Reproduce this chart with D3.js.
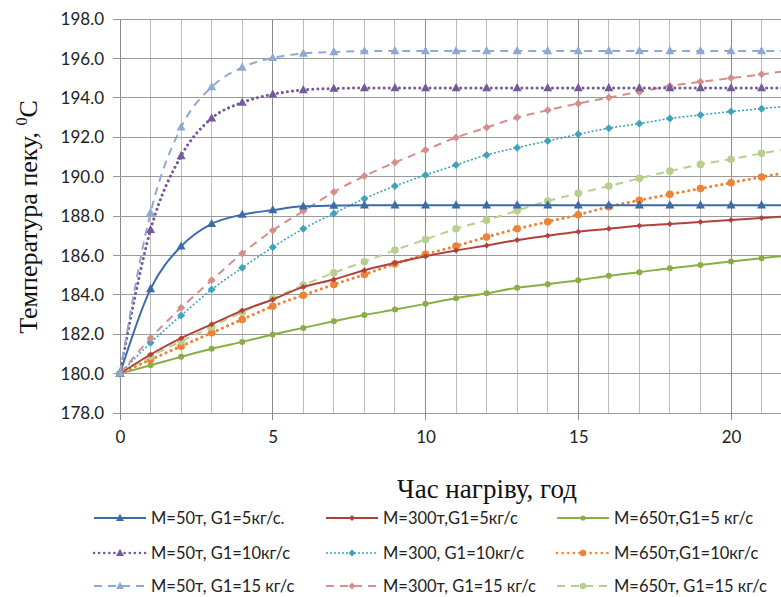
<!DOCTYPE html>
<html>
<head>
<meta charset="utf-8">
<script src="https://cdn.jsdelivr.net/npm/d3@7"></script>
<style>
  html, body { margin: 0; padding: 0; background: #fff; }
  svg { display: block; }
</style>
</head>
<body>
<svg id="chart" width="781" height="597"></svg>
<script>
// ---------- DATA ----------
const hours = [0,1,2,3,4,5,6,7,8,9,10,11,12,13,14,15,16,17,18,19,20,21,22];

const m50g5   = [180.0,184.3,186.46,187.6,188.07,188.3,188.49,188.53,188.55,188.55,188.55,188.55,188.55,188.55,188.55,188.55,188.55,188.55,188.55,188.55,188.55,188.55,188.55];
const m50g10  = [180.0,187.3,191.05,192.96,193.76,194.18,194.4,194.47,194.5,194.5,194.5,194.5,194.5,194.5,194.5,194.5,194.5,194.5,194.5,194.5,194.5,194.5,194.5];
const m50g15  = [180.0,188.17,192.5,194.55,195.54,196.03,196.25,196.33,196.37,196.38,196.38,196.38,196.38,196.38,196.38,196.38,196.38,196.38,196.38,196.38,196.38,196.38,196.38];
const m300g5  = [180.0,180.97,181.8,182.5,183.2,183.76,184.4,184.78,185.25,185.62,185.96,186.25,186.5,186.78,187.0,187.2,187.35,187.5,187.6,187.7,187.8,187.9,188.0];
const m300g10 = [180.0,181.56,182.95,184.27,185.37,186.42,187.35,188.13,188.88,189.52,190.08,190.59,191.1,191.47,191.81,192.15,192.46,192.69,192.95,193.13,193.3,193.45,193.6];
const m300g15 = [180.0,181.8,183.34,184.74,186.1,187.27,188.25,189.22,190.03,190.72,191.35,191.98,192.49,193.0,193.37,193.71,194.01,194.3,194.6,194.81,195.0,195.19,195.4];
const m650g5  = [180.0,180.42,180.85,181.26,181.61,181.98,182.32,182.66,182.97,183.25,183.54,183.83,184.08,184.36,184.54,184.74,184.97,185.15,185.35,185.51,185.69,185.86,186.02];
const m650g10 = [180.0,180.71,181.39,182.07,182.75,183.42,183.98,184.52,185.03,185.57,186.05,186.47,186.93,187.35,187.71,188.06,188.47,188.8,189.1,189.39,189.69,189.98,190.25];
const m650g15 = [180.0,180.88,181.64,182.37,183.12,183.81,184.49,185.12,185.68,186.27,186.81,187.35,187.79,188.27,188.76,189.15,189.52,189.91,190.28,190.62,190.88,191.18,191.45];

const seriesNames = [
  "M=50т, G1=5кг/с.", "M=300т,G1=5кг/с", "M=650т,G1=5 кг/с",
  "M=50т, G1=10кг/с", "M=300, G1=10кг/с", "M=650т,G1=10кг/с",
  "M=50т, G1=15 кг/с", "M=300т, G1=15 кг/с", "M=650т, G1=15 кг/с"
];
const seriesValues = [m50g5, m300g5, m650g5, m50g10, m300g10, m650g10, m50g15, m300g15, m650g15];

const yTicks = [178,180,182,184,186,188,190,192,194,196,198];
const xTicks = [0,5,10,15,20];
const xTitle = "Час нагріву, год";
const yTitle = "Температура пеку, ";

// ---------- STYLES ----------
const styles = [
  {color:"#3B6BA8", width:2,   dash:null,     cap:"butt",  marker:"tri", size:9,   lsize:8},
  {color:"#B2403D", width:2,   dash:null,     cap:"butt",  marker:"dia", size:6,   lsize:6},
  {color:"#88AE45", width:2,   dash:null,     cap:"butt",  marker:"dot", size:3,   lsize:2.6},
  {color:"#76599B", width:3,   dash:"0.1 5",  cap:"round", marker:"tri", size:9,   lsize:8},
  {color:"#3FA3BE", width:1.6, dash:"2 2",    cap:"butt",  marker:"dia", size:8,   lsize:7},
  {color:"#EE8235", width:3,   dash:"0.1 5.5",cap:"round", marker:"dot", size:3.8, lsize:3.2},
  {color:"#8EA9D4", width:2,   dash:"8 6",    cap:"butt",  marker:"tri", size:9,   lsize:8},
  {color:"#D68E8B", width:2,   dash:"8 6",    cap:"butt",  marker:"dia", size:8,   lsize:7},
  {color:"#B8D08E", width:2,   dash:"8 6",    cap:"butt",  marker:"dot", size:3.8, lsize:3.2}
];

// ---------- LAYOUT ----------
const svg = d3.select("#chart");
const W = 781;
const x = d3.scaleLinear().domain([0, 20]).range([120, 731]);
const y = d3.scaleLinear().domain([178, 198]).range([413, 19]);
const xMax = x.invert(W);

svg.append("defs").append("clipPath").attr("id","plotclip")
  .append("rect").attr("x", 114).attr("y", 10).attr("width", W - 114).attr("height", 410);

// gridlines
const grid = svg.append("g");
d3.range(0, Math.floor(xMax) + 1).forEach(v => {
  grid.append("line")
    .attr("x1", x(v)).attr("x2", x(v)).attr("y1", y(198)).attr("y2", y(178))
    .attr("stroke", v % 5 === 0 ? "#8C8C8C" : "#BDBDBD")
    .attr("stroke-width", 1).attr("shape-rendering","crispEdges");
});
yTicks.forEach(v => {
  grid.append("line")
    .attr("x1", x(0) - 7).attr("x2", W).attr("y1", y(v)).attr("y2", y(v))
    .attr("stroke", "#9A9A9A").attr("stroke-width", 1).attr("shape-rendering","crispEdges");
});
// x tick marks
xTicks.forEach(v => {
  grid.append("line")
    .attr("x1", x(v)).attr("x2", x(v)).attr("y1", y(178)).attr("y2", y(178) + 7)
    .attr("stroke", "#8C8C8C").attr("stroke-width", 1).attr("shape-rendering","crispEdges");
});

// axes labels via d3 axes (no domain lines)
const yAxis = svg.append("g").attr("transform", `translate(${x(0) - 16},0)`)
  .call(d3.axisLeft(y).tickValues(yTicks).tickSize(0).tickFormat(d3.format(".1f")));
yAxis.select(".domain").remove();
yAxis.selectAll("text").attr("font-family", "Lato, 'Open Sans', sans-serif")
  .attr("font-size", 17).attr("fill", "#222").attr("x", 0).attr("dy", "0.34em");

const xAxis = svg.append("g").attr("transform", `translate(0,${y(178) + 24})`)
  .call(d3.axisBottom(x).tickValues(xTicks).tickSize(0).tickFormat(d3.format("d")));
xAxis.select(".domain").remove();
xAxis.selectAll("text").attr("font-family", "Lato, 'Open Sans', sans-serif")
  .attr("font-size", 17).attr("fill", "#222").attr("y", 0).attr("dy", "0.35em");

// titles
svg.append("text").attr("x", 487).attr("y", 498).attr("text-anchor","middle")
  .attr("font-family","'Liberation Serif', 'Times New Roman', serif").attr("font-size", 27)
  .attr("fill","#111").text(xTitle);

const yt = svg.append("text").attr("transform", "translate(37,217) rotate(-90)")
  .attr("text-anchor","middle")
  .attr("font-family","'Liberation Serif', 'Times New Roman', serif").attr("font-size", 26)
  .attr("fill","#111");
yt.append("tspan").text(yTitle);
yt.append("tspan").attr("font-size", 16).attr("dy", -10).text("0");
yt.append("tspan").attr("dy", 10).text("С");

// markers
function drawMarker(g, type, cx, cy, s, color) {
  if (type === "tri") {
    const h = s * 0.9;
    g.append("path").attr("d", `M${cx},${cy - h*0.6} L${cx + s/2},${cy + h*0.4} L${cx - s/2},${cy + h*0.4} Z`)
      .attr("fill", color);
  } else if (type === "dia") {
    g.append("path").attr("d", `M${cx},${cy - s/2} L${cx + s/2},${cy} L${cx},${cy + s/2} L${cx - s/2},${cy} Z`)
      .attr("fill", color);
  } else {
    g.append("circle").attr("cx", cx).attr("cy", cy).attr("r", s).attr("fill", color);
  }
}

// series
const plot = svg.append("g").attr("clip-path", "url(#plotclip)");
const line = d3.line().x(d => x(d[0])).y(d => y(d[1])).curve(d3.curveMonotoneX);
const drawOrder = [2,5,8,1,4,7,0,3,6];
drawOrder.forEach(i => {
  const st = styles[i];
  const pts = hours.map((h, k) => [h, seriesValues[i][k]]);
  plot.append("path").datum(pts).attr("d", line)
    .attr("fill","none").attr("stroke", st.color).attr("stroke-width", st.width)
    .attr("stroke-dasharray", st.dash).attr("stroke-linecap", st.cap);
  const mg = plot.append("g");
  pts.forEach(p => drawMarker(mg, st.marker, x(p[0]), y(p[1]), st.size, st.color));
});

// legend
const legX = [94, 326, 557];
const legY = [518, 553, 586];
seriesNames.forEach((name, i) => {
  const st = styles[i];
  const col = i % 3, row = Math.floor(i / 3);
  const lx = legX[col], ly = legY[row];
  const g = svg.append("g");
  g.append("line").attr("x1", lx).attr("x2", lx + 52).attr("y1", ly).attr("y2", ly)
    .attr("stroke", st.color).attr("stroke-width", Math.min(st.width, 2.5))
    .attr("stroke-dasharray", st.dash).attr("stroke-linecap", st.cap);
  drawMarker(g, st.marker, lx + 26, ly, st.lsize, st.color);
  g.append("text").attr("x", lx + 57).attr("y", ly).attr("dy","0.35em")
    .attr("font-family","Lato, 'Open Sans', sans-serif").attr("font-size", 16.5)
    .attr("fill","#222").text(name);
});
</script>
</body>
</html>
